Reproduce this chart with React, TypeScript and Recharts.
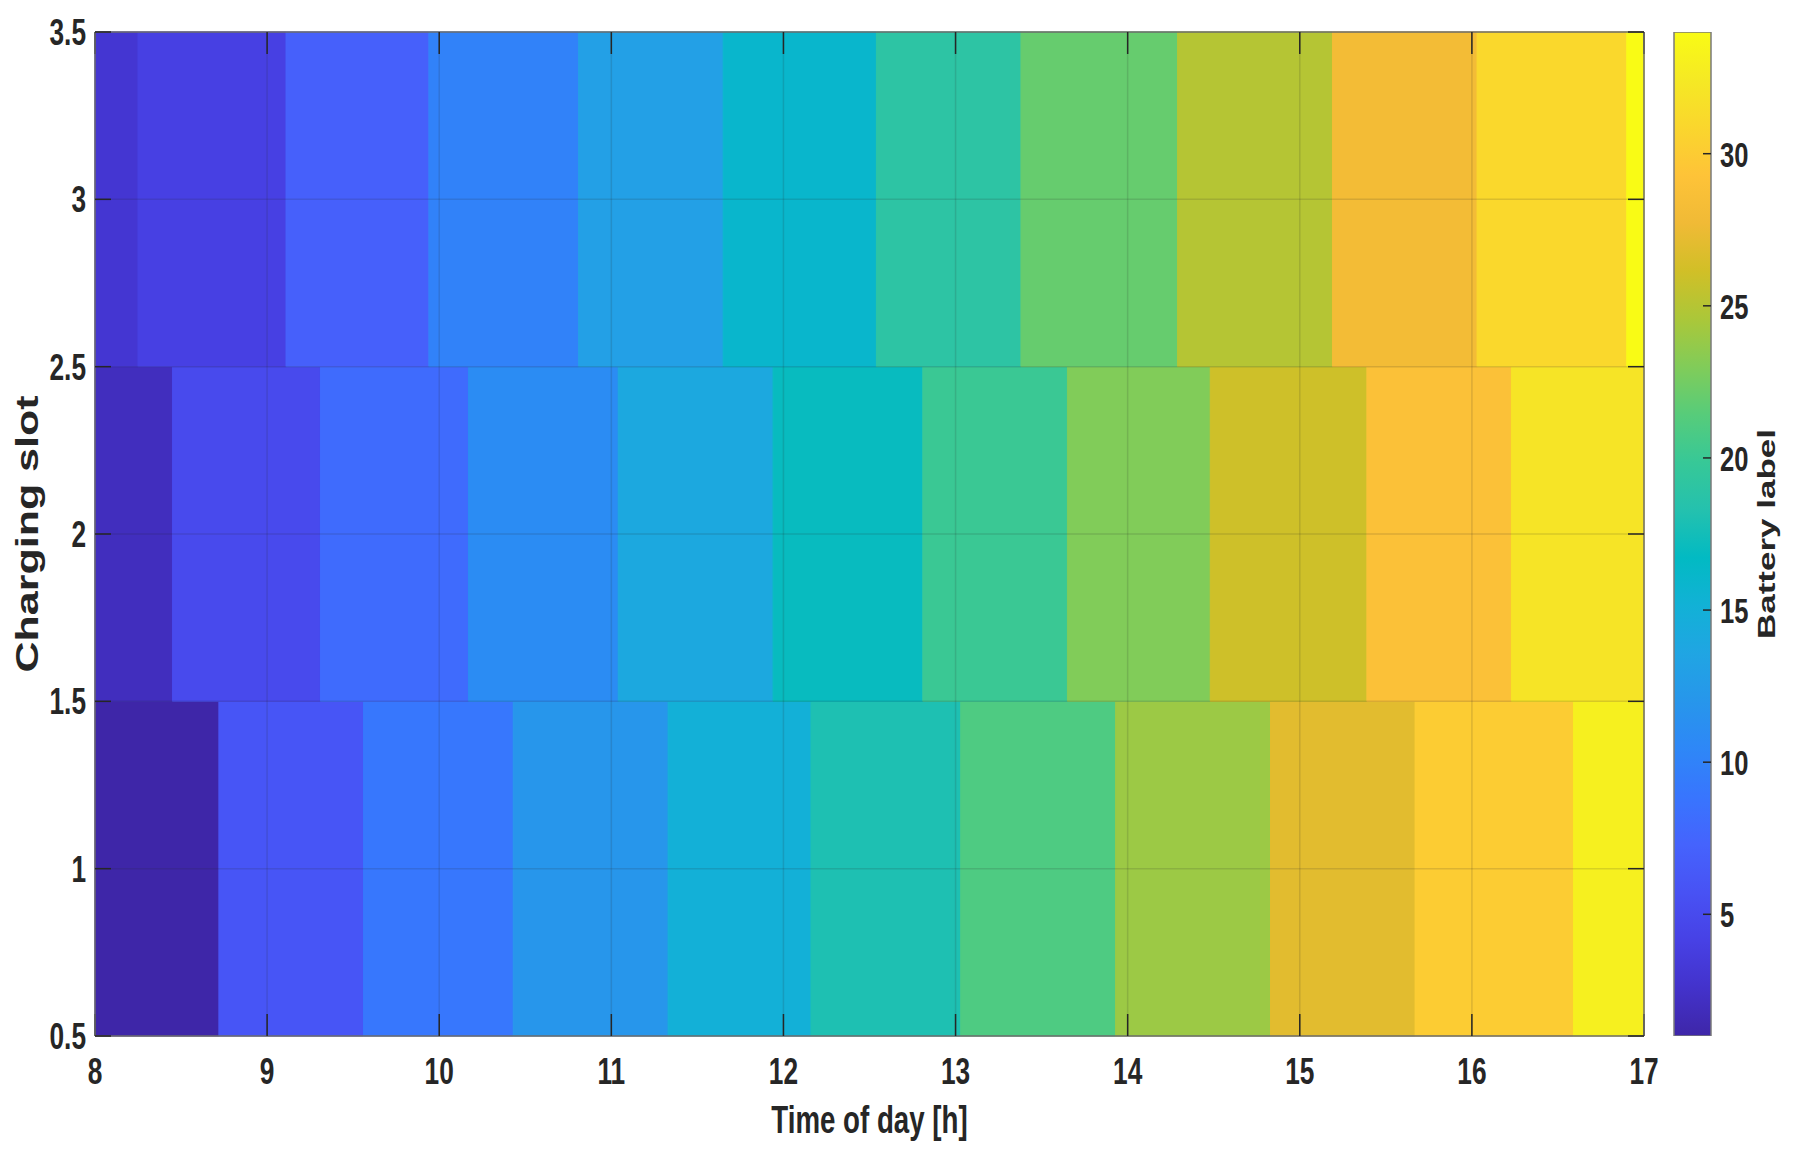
import { ComposedChart, XAxis, YAxis, Bar, ReferenceArea, ReferenceLine, Label } from 'recharts';

// time of day ticks [h] and charging slot ticks
const HOUR_TICKS = [8, 9, 10, 11, 12, 13, 14, 15, 16, 17];
const SLOT_TICKS = [0.5, 1, 1.5, 2, 2.5, 3, 3.5];
const BAR_TICKS = [5, 10, 15, 20, 25, 30];
const DAY_START = 8;
const DAY_END = 17;
const LABEL_MIN = 1;
const LABEL_MAX = 34;

// start time of every battery in each slot, with its label
const SLOT1_START = [8, 8.72, 9.56, 10.43, 11.33, 12.16, 13.03, 13.93, 14.83, 15.67, 16.59];
const SLOT1_LABEL = [1, 6, 9, 12, 15, 18, 21, 24, 27, 30, 33];
const SLOT2_START = [8, 8.45, 9.31, 10.17, 11.04, 11.94, 12.81, 13.65, 14.48, 15.39, 16.23];
const SLOT2_LABEL = [2, 5, 8, 11, 14, 17, 20, 23, 26, 29, 32];
const SLOT3_START = [8, 8.25, 9.11, 9.94, 10.81, 11.65, 12.54, 13.38, 14.29, 15.19, 16.03, 16.9];
const SLOT3_LABEL = [3, 4, 7, 10, 13, 16, 19, 22, 25, 28, 31, 34];

// colour bar spans every label
const COLORBAR = [{ key: 'labels', span: [LABEL_MIN, LABEL_MAX] }];

// parula colormap (every third entry of the 64 colour table)
const PARULA = [
  '#3e26a8', '#4332cb', '#4741e5', '#4852f4', '#4563fd', '#3875fe', '#2e87f7', '#2796eb',
  '#20a5e3', '#12b1d6', '#02bac3', '#24c1ae', '#37c897', '#57cc7a', '#81cc59', '#abc739',
  '#d1bf27', '#f0ba36', '#fec338', '#fad62d', '#f5e924', '#f9fb15',
];

const FONT = '"Liberation Sans", Arial, sans-serif';
const INK = '#262626';
const SX = 0.71; // figure is squeezed horizontally

function hexToRgb(h: string) {
  return [1, 3, 5].map((i) => parseInt(h.slice(i, i + 2), 16));
}

function parula(v: number) {
  const t = Math.min(1, Math.max(0, (v - LABEL_MIN) / (LABEL_MAX - LABEL_MIN)));
  const p = t * (PARULA.length - 1);
  const i = Math.min(PARULA.length - 2, Math.floor(p));
  const f = p - i;
  const a = hexToRgb(PARULA[i]);
  const b = hexToRgb(PARULA[i + 1]);
  const c = a.map((ch, k) => Math.round(ch + (b[k] - ch) * f));
  return `rgb(${c[0]},${c[1]},${c[2]})`;
}

const slots = [
  { slot: 1, starts: SLOT1_START, labels: SLOT1_LABEL },
  { slot: 2, starts: SLOT2_START, labels: SLOT2_LABEL },
  { slot: 3, starts: SLOT3_START, labels: SLOT3_LABEL },
];

const cells = slots.flatMap(({ slot, starts, labels }) =>
  starts.map((s, i) => ({
    slot,
    x1: s,
    x2: i + 1 < starts.length ? starts[i + 1] : DAY_END,
    label: labels[i],
  })),
);

const XTick = ({ x, y, payload }: any) => (
  <g transform={`translate(${x},${y}) scale(${SX},1)`}>
    <text textAnchor="middle" y={26} fontSize={37} fontWeight="bold" fill={INK} fontFamily={FONT}>
      {payload.value}
    </text>
  </g>
);

const YTick = ({ x, y, payload }: any) => (
  <g transform={`translate(${x},${y}) scale(${SX},1)`}>
    <text textAnchor="end" y={13} fontSize={37} fontWeight="bold" fill={INK} fontFamily={FONT}>
      {payload.value}
    </text>
  </g>
);

const BarTick = ({ x, y, payload }: any) => (
  <g transform={`translate(${x},${y}) scale(${SX},1)`}>
    <text textAnchor="start" y={13} fontSize={36} fontWeight="bold" fill={INK} fontFamily={FONT}>
      {payload.value}
    </text>
  </g>
);

const NoTick = () => <g />;

const XTitle = ({ viewBox }: any) => (
  <g transform={`translate(${viewBox.x + viewBox.width / 2},${viewBox.y + 97}) scale(${SX},1)`}>
    <text textAnchor="middle" fontSize={39} fontWeight="bold" fill={INK} fontFamily={FONT}>
      Time of day [h]
    </text>
  </g>
);

const YTitle = ({ viewBox }: any) => (
  <g transform={`translate(${viewBox.x + 38},${viewBox.y + viewBox.height / 2}) scale(${SX},1) rotate(-90)`}>
    <text textAnchor="middle" fontSize={43} fontWeight="bold" fill={INK} fontFamily={FONT}>
      Charging slot
    </text>
  </g>
);

const BarTitle = ({ viewBox }: any) => (
  <g transform={`translate(${viewBox.x + 64},${viewBox.y + viewBox.height / 2}) scale(${SX},1) rotate(-90)`}>
    <text textAnchor="middle" fontSize={35} fontWeight="bold" fill={INK} fontFamily={FONT}>
      Battery label
    </text>
  </g>
);

const axisLine = { stroke: '#6b6b6b', strokeWidth: 1.5 };
const tickLine = { stroke: INK, strokeWidth: 1.5 };

function ChargingMap() {
  return (
    <ComposedChart width={1795} height={1160} margin={{ top: 30, right: 149, bottom: 0, left: 0 }}>
      <XAxis
        type="number"
        dataKey="x"
        domain={[DAY_START, DAY_END]}
        allowDataOverflow
        ticks={HOUR_TICKS}
        interval={0}
        height={124}
        axisLine={axisLine}
        tickLine={tickLine}
        tickSize={-22}
        tickMargin={44}
        tick={<XTick />}
      >
        <Label content={<XTitle />} />
      </XAxis>
      <XAxis
        xAxisId="top"
        orientation="top"
        type="number"
        dataKey="x"
        domain={[DAY_START, DAY_END]}
        allowDataOverflow
        ticks={HOUR_TICKS}
        interval={0}
        height={2}
        axisLine={axisLine}
        tickLine={tickLine}
        tickSize={-22}
        tick={<NoTick />}
      />
      <YAxis
        type="number"
        domain={[0.5, 3.5]}
        allowDataOverflow
        ticks={SLOT_TICKS}
        interval={0}
        width={95}
        axisLine={axisLine}
        tickLine={tickLine}
        tickSize={-16}
        tickMargin={25}
        tick={<YTick />}
      >
        <Label content={<YTitle />} />
      </YAxis>
      <YAxis
        yAxisId="right"
        orientation="right"
        type="number"
        domain={[0.5, 3.5]}
        allowDataOverflow
        ticks={SLOT_TICKS}
        interval={0}
        width={2}
        axisLine={axisLine}
        tickLine={tickLine}
        tickSize={-16}
        tick={<NoTick />}
      />
      {cells.map((c) => {
        const color = parula(c.label);
        return (
          <ReferenceArea
            key={`${c.slot}-${c.label}`}
            x1={c.x1}
            x2={c.x2}
            y1={c.slot - 0.5}
            y2={c.slot + 0.5}
            fill={color}
            fillOpacity={1}
            stroke={color}
            strokeWidth={1}
            isAnimationActive={false}
          />
        );
      })}
      {HOUR_TICKS.slice(1, -1).map((h) => (
        <ReferenceLine key={`vx${h}`} x={h} stroke={INK} strokeOpacity={0.15} strokeWidth={1.5} />
      ))}
      {SLOT_TICKS.slice(1, -1).map((s) => (
        <ReferenceLine key={`hy${s}`} y={s} stroke={INK} strokeOpacity={0.15} strokeWidth={1.5} />
      ))}
    </ComposedChart>
  );
}

function ColorBar() {
  return (
    <ComposedChart
      width={155}
      height={1160}
      data={COLORBAR}
      barCategoryGap={0}
      margin={{ top: 32, right: 0, bottom: 124, left: 34 }}
    >
      <defs>
        <linearGradient id="parulaGrad" x1="0" y1="1" x2="0" y2="0">
          {PARULA.map((c, i) => (
            <stop key={c} offset={i / (PARULA.length - 1)} stopColor={c} />
          ))}
        </linearGradient>
      </defs>
      <XAxis type="category" dataKey="key" hide />
      <YAxis
        orientation="right"
        type="number"
        domain={[LABEL_MIN, LABEL_MAX]}
        allowDataOverflow
        ticks={BAR_TICKS}
        interval={0}
        width={84}
        axisLine={false}
        tickLine={tickLine}
        tickSize={-8}
        tickMargin={17}
        tick={<BarTick />}
      >
        <Label content={<BarTitle />} />
      </YAxis>
      <Bar
        dataKey="span"
        fill="url(#parulaGrad)"
        stroke="#7a7a7a"
        strokeWidth={1.5}
        isAnimationActive={false}
      />
    </ComposedChart>
  );
}

export default function App() {
  return (
    <div style={{ position: 'absolute', left: 0, top: 0, width: 1795, height: 1160, background: '#fff' }}>
      <div style={{ position: 'absolute', left: 0, top: 0 }}>
        <ChargingMap />
      </div>
      <div style={{ position: 'absolute', left: 1640, top: 0 }}>
        <ColorBar />
      </div>
    </div>
  );
}
